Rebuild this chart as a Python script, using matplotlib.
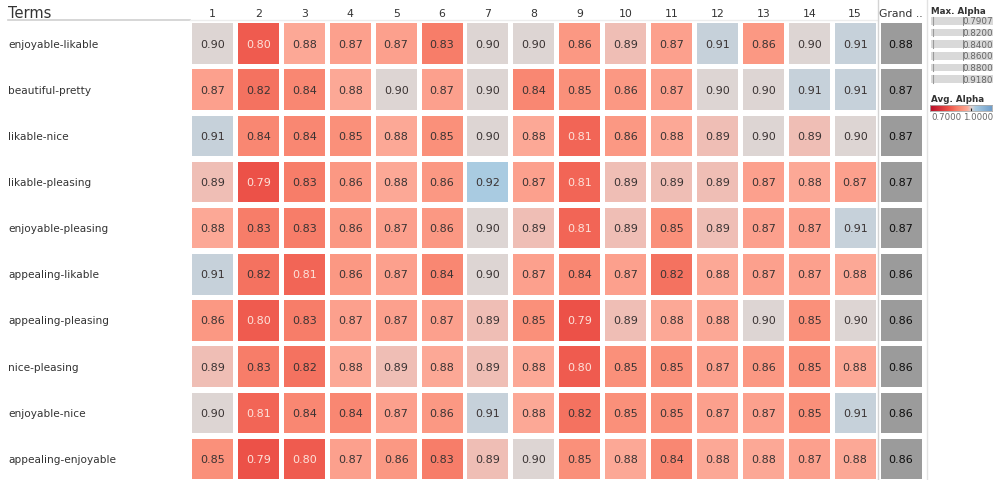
import matplotlib
matplotlib.use("Agg")
import matplotlib.pyplot as plt
import matplotlib.transforms as mtransforms
from matplotlib.colors import LinearSegmentedColormap, Normalize
from matplotlib.patches import Rectangle
import numpy as np

# ---- data -------------------------------------------------------------
terms = [
    "enjoyable-likable", "beautiful-pretty", "likable-nice", "likable-pleasing",
    "enjoyable-pleasing", "appealing-likable", "appealing-pleasing",
    "nice-pleasing", "enjoyable-nice", "appealing-enjoyable",
]
columns = [str(i) for i in range(1, 16)]
grand_label = "Grand .."

avg_alpha = [
    [0.90, 0.80, 0.88, 0.87, 0.87, 0.83, 0.90, 0.90, 0.86, 0.89, 0.87, 0.91, 0.86, 0.90, 0.91],
    [0.87, 0.82, 0.84, 0.88, 0.90, 0.87, 0.90, 0.84, 0.85, 0.86, 0.87, 0.90, 0.90, 0.91, 0.91],
    [0.91, 0.84, 0.84, 0.85, 0.88, 0.85, 0.90, 0.88, 0.81, 0.86, 0.88, 0.89, 0.90, 0.89, 0.90],
    [0.89, 0.79, 0.83, 0.86, 0.88, 0.86, 0.92, 0.87, 0.81, 0.89, 0.89, 0.89, 0.87, 0.88, 0.87],
    [0.88, 0.83, 0.83, 0.86, 0.87, 0.86, 0.90, 0.89, 0.81, 0.89, 0.85, 0.89, 0.87, 0.87, 0.91],
    [0.91, 0.82, 0.81, 0.86, 0.87, 0.84, 0.90, 0.87, 0.84, 0.87, 0.82, 0.88, 0.87, 0.87, 0.88],
    [0.86, 0.80, 0.83, 0.87, 0.87, 0.87, 0.89, 0.85, 0.79, 0.89, 0.88, 0.88, 0.90, 0.85, 0.90],
    [0.89, 0.83, 0.82, 0.88, 0.89, 0.88, 0.89, 0.88, 0.80, 0.85, 0.85, 0.87, 0.86, 0.85, 0.88],
    [0.90, 0.81, 0.84, 0.84, 0.87, 0.86, 0.91, 0.88, 0.82, 0.85, 0.85, 0.87, 0.87, 0.85, 0.91],
    [0.85, 0.79, 0.80, 0.87, 0.86, 0.83, 0.89, 0.90, 0.85, 0.88, 0.84, 0.88, 0.88, 0.87, 0.88],
]
grand_total = [0.88, 0.87, 0.87, 0.87, 0.87, 0.86, 0.86, 0.86, 0.86, 0.86]

max_alpha_levels = [0.7907, 0.8200, 0.8400, 0.8600, 0.8800, 0.9180]
color_min, color_max = 0.70, 1.00

# ---- diverging red / grey / blue palette --------------------------------
stops = [
    (0.70, "#b70d28"), (0.79, "#ec5148"), (0.81, "#f26656"), (0.83, "#f77e6a"),
    (0.85, "#fa9079"), (0.87, "#fca08c"), (0.88, "#fca896"), (0.89, "#f0bdb3"),
    (0.90, "#ddd5d3"), (0.91, "#c8d1da"), (0.92, "#a9cbe1"), (1.00, "#6f9ecb"),
]
cmap = LinearSegmentedColormap.from_list(
    "alpha_div", [((v - color_min) / (color_max - color_min), c) for v, c in stops])
norm = Normalize(color_min, color_max)

# ---- figure -------------------------------------------------------------
W, H = 996, 481
fig = plt.figure(figsize=(W / 100, H / 100), dpi=100)
fig.patch.set_facecolor("white")

def px(x0, y0, x1, y1):
    """Figure-fraction rect from pixel box (origin top-left)."""
    return [x0 / W, 1 - y1 / H, (x1 - x0) / W, (y1 - y0) / H]

ncols = len(columns) + 1
nrows = len(terms)
ax = fig.add_axes(px(189.6, 21.5, 924.0, 483.0))
ax.set_xlim(-0.5, ncols - 0.5)
ax.set_ylim(nrows - 0.5, -0.5)
ax.axis("off")

cw, ch = 0.893, 0.877
text_dark = "#3a3333"
text_light = "#fde2da"

for i, row in enumerate(avg_alpha):
    for j, v in enumerate(row):
        ax.add_patch(Rectangle((j - cw / 2, i - ch / 2), cw, ch,
                               facecolor=cmap(norm(v)), edgecolor="none"))
        ax.text(j, i, f"{v:.2f}", ha="center", va="center", fontsize=8,
                color=text_light if v < 0.815 else text_dark)
    g = grand_total[i]
    jg = ncols - 1
    ax.add_patch(Rectangle((jg - cw / 2, i - ch / 2), cw, ch,
                           facecolor="#9b9b9b", edgecolor="none"))
    ax.text(jg, i, f"{g:.2f}", ha="center", va="center", fontsize=8,
            color="#0d0d0d", fontweight="medium")

# column headers
for j, c in enumerate(columns + [grand_label]):
    ax.text(j, -0.67, c, ha="center", va="center", fontsize=7.8,
            color="#333333", clip_on=False)

# row labels
row_tr = mtransforms.blended_transform_factory(fig.transFigure, ax.transData)
for i, t in enumerate(terms):
    ax.text(8 / W, i, t, transform=row_tr, ha="left", va="center",
            fontsize=7.6, color="#333333", clip_on=False)

fig.text(8 / W, 1 - 13 / H, "Terms", ha="left", va="center",
         fontsize=10.5, color="#333333")

# header rule and separators
fig.add_artist(plt.Line2D([8 / W, 190 / W], [1 - 21 / H] * 2,
                          color="#cfcfcf", lw=1.2))
fig.add_artist(plt.Line2D([190 / W, 878 / W], [1 - 21 / H] * 2,
                          color="#ececec", lw=1.0))
fig.add_artist(plt.Line2D([878 / W] * 2, [0, 1], color="#d4d4d4", lw=1.0))
fig.add_artist(plt.Line2D([927 / W] * 2, [0, 1], color="#e2e2e2", lw=1.0))

# ---- size legend (Max. Alpha) -----------------------------------------
fig.text(931 / W, 1 - 11 / H, "Max. Alpha", ha="left", va="center",
         fontsize=6.3, color="#333333", fontweight="bold")
sax = fig.add_axes(px(931, 16, 993, 86))
sax.set_xlim(0, 1)
sax.set_ylim(len(max_alpha_levels) - 0.5, -0.5)
sax.axis("off")
for k, lv in enumerate(max_alpha_levels):
    sax.barh(k, 1.0, height=0.68, left=0, color="#d9d9d9")
    sax.plot([0.03, 0.03], [k - 0.34, k + 0.34], color="#9a9a9a", lw=0.8)
    sax.plot([0.52, 0.52], [k - 0.34, k + 0.34], color="#777777", lw=0.6)
    sax.text(1.0, k, f"{lv:.4f}", ha="right", va="center", fontsize=6.3,
             color="#666666")

# ---- colour legend (Avg. Alpha) ----------------------------------------
fig.text(931 / W, 1 - 99 / H, "Avg. Alpha", ha="left", va="center",
         fontsize=6.3, color="#333333", fontweight="bold")
cax = fig.add_axes(px(930, 106, 992, 112))
grad = np.linspace(color_min, color_max, 256)[None, :]
cax.imshow(grad, aspect="auto", cmap=cmap, norm=norm,
           extent=(color_min, color_max, 0, 1))
cax.set_xlim(color_min, color_max)
cax.set_xticks([0.90])
cax.set_xticklabels([])
cax.tick_params(axis="x", length=2, width=0.8, color="#222222", direction="in")
cax.set_yticks([])
for s in cax.spines.values():
    s.set_edgecolor("#aaaaaa")
    s.set_linewidth(0.6)
fig.text(931 / W, 1 - 118 / H, f"{color_min:.4f}", ha="left", va="center",
         fontsize=6.2, color="#666666")
fig.text(993 / W, 1 - 118 / H, f"{color_max:.4f}", ha="right", va="center",
         fontsize=6.2, color="#666666")

fig.savefig("out.png", dpi=100, facecolor="white")
